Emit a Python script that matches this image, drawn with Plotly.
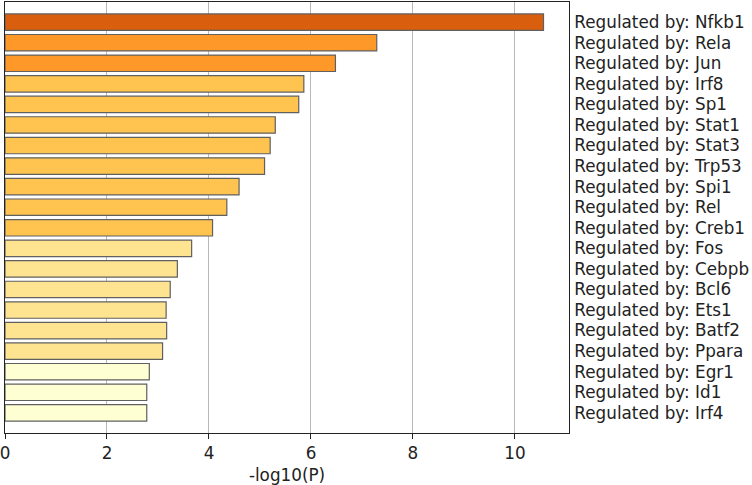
import plotly.graph_objects as go

terms = ["Nfkb1", "Rela", "Jun", "Irf8", "Sp1", "Stat1", "Stat3", "Trp53", "Spi1", "Rel",
         "Creb1", "Fos", "Cebpb", "Bcl6", "Ets1", "Batf2", "Ppara", "Egr1", "Id1", "Irf4"]
values = [10.56, 7.29, 6.48, 5.86, 5.76, 5.30, 5.20, 5.09, 4.59, 4.35,
          4.07, 3.66, 3.38, 3.24, 3.16, 3.17, 3.09, 2.83, 2.78, 2.78]
colors = ["#D95F0E", "#FE9929", "#FE9929", "#FEC44F", "#FEC44F", "#FEC44F", "#FEC44F",
          "#FEC44F", "#FEC44F", "#FEC44F", "#FEC44F", "#FEE391", "#FEE391", "#FEE391",
          "#FEE391", "#FEE391", "#FEE391", "#FFFFD4", "#FFFFD4", "#FFFFD4"]
labels = ["Regulated by: " + t for t in terms]
x_ticks = [0, 2, 4, 6, 8, 10]

font = "DejaVu Sans, Verdana, sans-serif"

fig = go.Figure(go.Bar(
    x=values, y=labels, orientation="h",
    marker=dict(color=colors, line=dict(color="#606060", width=1.2)),
    width=0.8,
))

fig.update_layout(
    width=752, height=485,
    margin=dict(l=5, r=183, t=2, b=52, autoexpand=False),
    plot_bgcolor="white", paper_bgcolor="white",
    showlegend=False,
    font=dict(family=font, size=16.8, color="#222"),
)
fig.update_xaxes(
    range=[0, 11.06], tickvals=x_ticks, ticks="outside", ticklen=5, tickcolor="#222",
    ticklabeloverflow="allow",
    showgrid=True, gridcolor="#b8b8b8", gridwidth=1.3, automargin=False,
    showline=True, linecolor="#222", linewidth=1, mirror=True, zeroline=False,
    title=dict(text="-log10(P)", standoff=7, font=dict(size=16.8)),
)
fig.update_yaxes(
    side="right", range=[19.98, -0.98], showgrid=False, ticks="",
    ticklabelstandoff=1, automargin=False, ticklabeloverflow="allow",
    showline=True, linecolor="#222", linewidth=1, mirror=True,
)

fig.write_html("out.html", config={"displayModeBar": False},
               post_script="document.body.style.margin='0';")
